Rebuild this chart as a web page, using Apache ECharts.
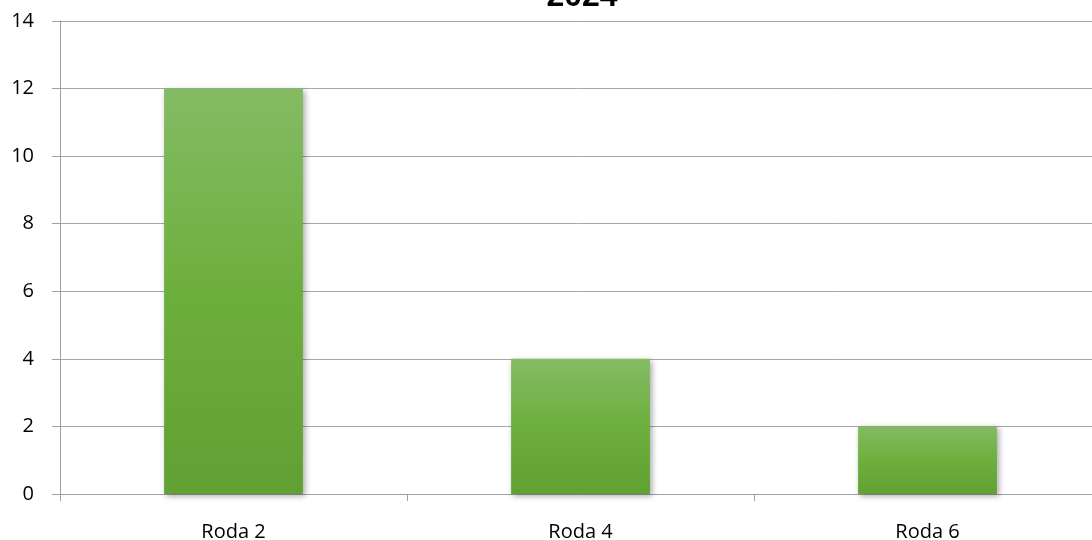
<!DOCTYPE html>
<html><head><meta charset="utf-8">
<script src="https://cdn.jsdelivr.net/npm/echarts@6/dist/echarts.min.js"></script>
<style>html,body{margin:0;padding:0;background:#fff;}#c{width:1092px;height:540px;}</style>
</head><body><div id="c"></div>
<script>
var categories = ["Roda 2", "Roda 4", "Roda 6"];
var values = [12, 4, 2];
var titleText = "2024";

var chart = echarts.init(document.getElementById('c'));
chart.setOption({
  animation: false,
  backgroundColor: '#ffffff',
  title: {
    text: titleText, left: 577, top: -24, textAlign: 'center',
    textStyle: {fontFamily: 'Liberation Sans', fontWeight: 'bold', fontSize: 32, color: '#000'}
  },
  grid: {left: 60, width: 1041, top: 21, bottom: 46, outerBoundsMode: 'none', containLabel: false},
  xAxis: {
    type: 'category', data: categories,
    axisLine: {lineStyle: {color: '#a0a0a0'}},
    axisTick: {show: true, length: 7, lineStyle: {color: '#a0a0a0'}},
    axisLabel: {fontFamily: 'Open Sans', fontSize: 20, color: '#000', margin: 28}
  },
  yAxis: {
    type: 'value', min: 0, max: 14, interval: 2,
    axisLine: {show: true, lineStyle: {color: '#a0a0a0'}},
    axisTick: {show: true, length: 8, lineStyle: {color: '#a0a0a0'}},
    splitLine: {lineStyle: {color: '#a6a6a6'}},
    axisLabel: {fontFamily: 'Open Sans', fontSize: 20, color: '#000', margin: 26}
  },
  series: [{
    type: 'bar', data: values, barWidth: '40%',
    itemStyle: {
      color: new echarts.graphic.LinearGradient(0, 0, 0, 1, [
        {offset: 0, color: '#84bb64'},
        {offset: 0.5, color: '#6daf3d'},
        {offset: 1, color: '#61a033'}
      ]),
      shadowColor: 'rgba(0,0,0,0.35)', shadowBlur: 6, shadowOffsetX: 2, shadowOffsetY: 2
    }
  }]
});
</script></body></html>
